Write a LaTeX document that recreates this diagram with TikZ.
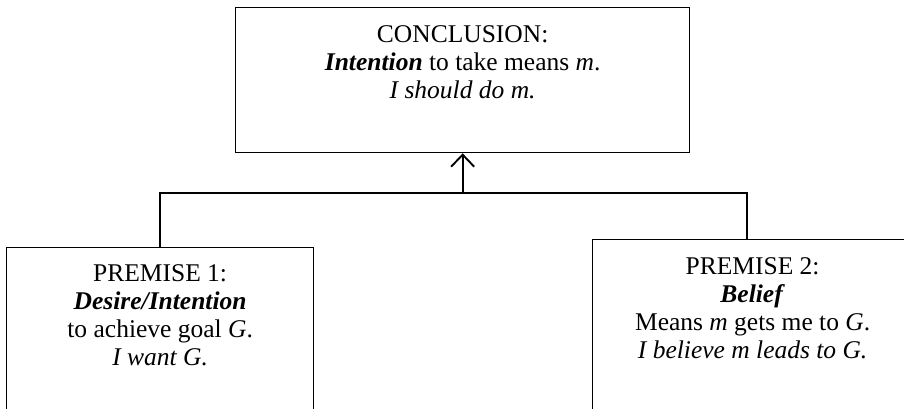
\documentclass[tikz,border=0pt]{standalone}
\usepackage{fontspec}
\setmainfont{Liberation Serif}
\usetikzlibrary{arrows.meta}
\begin{document}
\begin{tikzpicture}[x=1pt,y=-1pt,
  box/.style={draw=black, line width=1.3pt, inner sep=0pt},
  txt/.style={anchor=north, align=center, inner sep=0pt, font=\fontsize{25.5}{28.3}\selectfont},
  conn/.style={draw=black, line width=1.9pt},
  tip/.style={-{Straight Barb[length=12pt,width=23pt,line width=1.9pt]}}]
\useasboundingbox (0,0) rectangle (904,408);
\clip (0,0) rectangle (904,408);
\node[box, anchor=north west, minimum width=454pt, minimum height=145pt] (concl) at (235,7) {};
\node[box, anchor=north west, minimum width=307pt, minimum height=220pt] (p1) at (6,247) {};
\node[box, anchor=north west, minimum width=320pt, minimum height=220pt] (p2) at (592,239) {};
\node[txt] (conclt) at ([yshift=-18pt]concl.north) {CONCLUSION:\\\textbf{\textit{Intention}} to take means \textit{m}.\\\textit{I should do m.}};
\node[txt] (p1t) at ([yshift=-17pt]p1.north) {PREMISE 1:\\\textbf{\textit{Desire/Intention}}\\to achieve goal \textit{G}.\\\textit{I want G.}};
\node[txt] (p2t) at ([yshift=-18pt]p2.north) {PREMISE 2:\\\textbf{\textit{Belief}}\\Means \textit{m} gets me to \textit{G}.\\\textit{I believe m leads to G.}};
\coordinate (j) at (concl.south |- 0,193);
\coordinate (jr) at (747,193);
\draw[conn] (p1.north) |- (jr) -- (p2.north west -| jr);
\draw[conn, tip] (j) -- (concl.south);
\end{tikzpicture}
\end{document}
